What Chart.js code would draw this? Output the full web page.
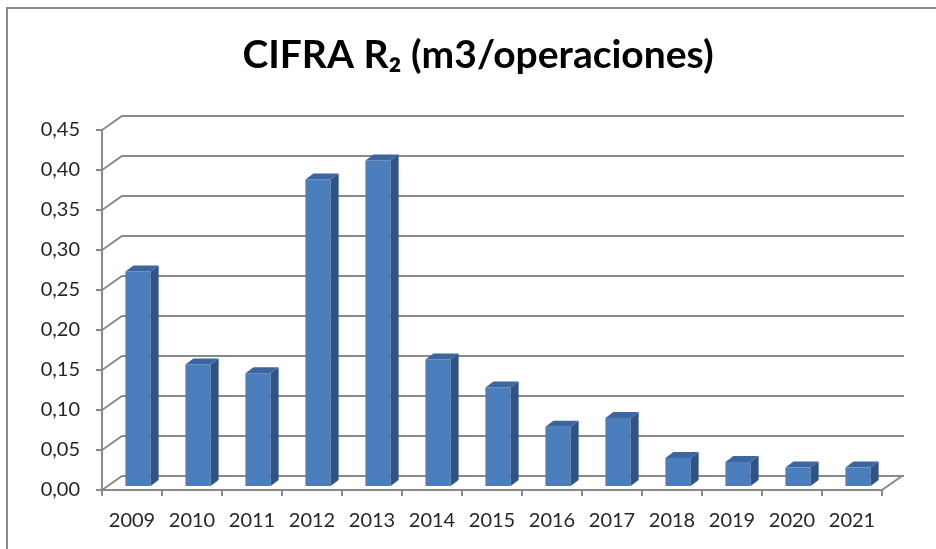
<!DOCTYPE html>
<html>
<head>
<meta charset="utf-8">
<script src="https://cdn.jsdelivr.net/npm/chart.js@4.4.0/dist/chart.umd.min.js"></script>
<style>
  html, body { margin: 0; padding: 0; background: #fff; }
  #wrap { width: 936px; height: 549px; }
</style>
</head>
<body>
<div id="wrap"><canvas id="chart"></canvas></div>
<script>
const years = ['2009', '2010', '2011', '2012', '2013', '2014', '2015', '2016', '2017', '2018', '2019', '2020', '2021'];
const r2Values = [0.268, 0.152, 0.141, 0.383, 0.407, 0.158, 0.123, 0.074, 0.085, 0.035, 0.030, 0.023, 0.023];
const yTicks = [0, 0.05, 0.10, 0.15, 0.20, 0.25, 0.30, 0.35, 0.40, 0.45];
const chartTitle = 'CIFRA R\u2082 (m3/operaciones)';

const lineGrey = '#898989';
const wallDX = 20, wallDY = -14;   // depth of back wall
const barDX = 6, barDY = -4;       // bars sit a little behind the front plane
const sideDX = 8, sideDY = -6;     // bar thickness

// draws the 3d walls, floor and the bar side/top faces
const fake3d = {
  id: 'fake3d',
  beforeDatasetsDraw(chart) {
    const { ctx, chartArea: a, scales } = chart;
    const ys = scales.y, xs = scales.x;
    ctx.save();
    // outer frame
    ctx.strokeStyle = lineGrey;
    ctx.lineWidth = 2;
    ctx.strokeRect(7, 8, 1000, 1000);

    yTicks.forEach(v => {
      const y = ys.getPixelForValue(v);
      ctx.beginPath();
      ctx.moveTo(a.left, y);
      ctx.lineTo(a.left + wallDX, y + wallDY);
      ctx.lineTo(a.right + wallDX + 2, y + wallDY);
      ctx.stroke();
      // tick mark on the axis
      ctx.beginPath();
      ctx.moveTo(a.left - 6, y);
      ctx.lineTo(a.left, y);
      ctx.stroke();
    });
    // value axis
    ctx.beginPath();
    ctx.moveTo(a.left, a.top);
    ctx.lineTo(a.left, a.bottom);
    ctx.stroke();
    // floor front edge + right side
    ctx.beginPath();
    ctx.moveTo(a.left, a.bottom);
    ctx.lineTo(a.right, a.bottom);
    ctx.lineTo(a.right + wallDX, a.bottom + wallDY);
    ctx.stroke();
    // category ticks
    for (let i = 0; i <= years.length; i++) {
      const x = xs.getPixelForValue(i - 0.5);
      ctx.beginPath();
      ctx.moveTo(x, a.bottom);
      ctx.lineTo(x, a.bottom + 6);
      ctx.stroke();
    }
    ctx.restore();

    ctx.save();
    ctx.translate(barDX, barDY);
  },
  afterDatasetsDraw(chart) {
    const { ctx } = chart;
    chart.getDatasetMeta(0).data.forEach(bar => {
      const p = bar.getProps(['x', 'y', 'base', 'width'], true);
      const l = p.x - p.width / 2, r = p.x + p.width / 2;
      ctx.fillStyle = '#2f5382';
      ctx.beginPath();
      ctx.moveTo(r, p.y);
      ctx.lineTo(r + sideDX, p.y + sideDY);
      ctx.lineTo(r + sideDX, p.base + sideDY);
      ctx.lineTo(r, p.base);
      ctx.closePath();
      ctx.fill();
      ctx.fillStyle = '#3b66a0';
      ctx.beginPath();
      ctx.moveTo(l, p.y);
      ctx.lineTo(l + sideDX, p.y + sideDY);
      ctx.lineTo(r + sideDX, p.y + sideDY);
      ctx.lineTo(r, p.y);
      ctx.closePath();
      ctx.fill();
    });
    ctx.restore();
  },
  afterDraw(chart) {
    const { ctx } = chart;
    ctx.save();
    ctx.font = 'bold 39px Lato';
    ctx.fillStyle = '#000';
    ctx.textAlign = 'center';
    ctx.textBaseline = 'middle';
    ctx.fillText(chartTitle, 478, 55);
    ctx.restore();
  }
};

new Chart(document.getElementById('chart'), {
  type: 'bar',
  data: {
    labels: years,
    datasets: [{
      label: 'Cifra R2',
      data: r2Values,
      backgroundColor: '#4b7ebc',
      borderWidth: 0,
      barPercentage: 0.42,
      categoryPercentage: 1
    }]
  },
  options: {
    responsive: true,
    maintainAspectRatio: false,
    animation: false,
    layout: { padding: { top: 130, right: 54, left: 0, bottom: 0 } },
    plugins: {
      legend: { display: false },
      title: { display: false },
      tooltip: { enabled: false }
    },
    scales: {
      x: {
        grid: { display: false, drawTicks: false },
        border: { display: false },
        ticks: { color: '#262626', font: { family: 'Lato', size: 20 }, padding: 19, maxRotation: 0 },
        afterFit(scale) { scale.height = 59; }
      },
      y: {
        min: 0,
        max: 0.45,
        grid: { display: false, drawTicks: false },
        border: { display: false },
        ticks: {
          stepSize: 0.05,
          color: '#262626',
          font: { family: 'Lato', size: 20 },
          padding: 22,
          callback: v => v.toFixed(2).replace('.', ',')
        },
        afterFit(scale) { scale.width = 102; }
      }
    }
  },
  plugins: [fake3d]
});
</script>
</body>
</html>
